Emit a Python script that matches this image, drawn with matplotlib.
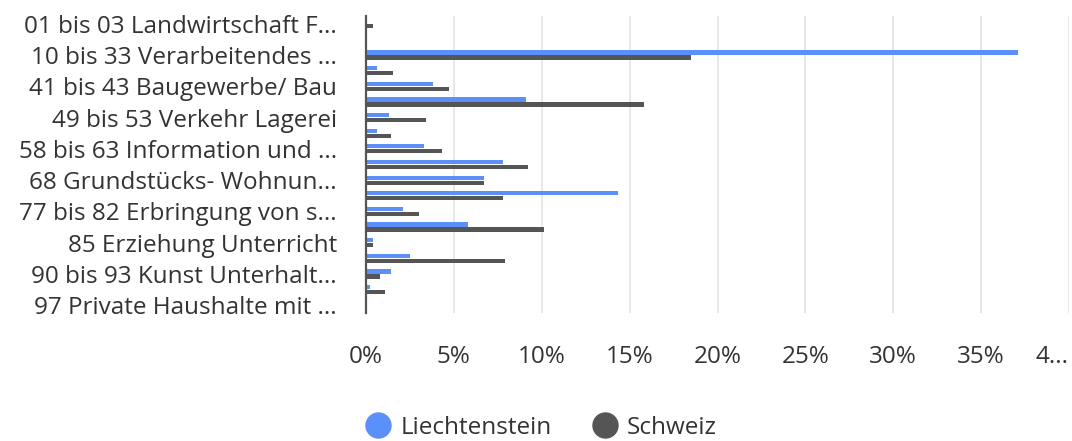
"""Beschäftigte nach Wirtschaftsabschnitt: Liechtenstein vs. Schweiz."""

import matplotlib
matplotlib.use("Agg")
import matplotlib.pyplot as plt
from matplotlib.lines import Line2D
import numpy as np

# category labels (only every other one is shown on the axis)
categories = [
    "01 bis 03 Landwirtschaft F...",
    "05 bis 09 Bergbau",
    "10 bis 33 Verarbeitendes ...",
    "35 bis 39 Energie- und Wasserversorgung",
    "41 bis 43 Baugewerbe/ Bau",
    "45 bis 47 Handel",
    "49 bis 53 Verkehr Lagerei",
    "55 bis 56 Gastgewerbe",
    "58 bis 63 Information und ...",
    "64 bis 66 Finanzdienstleistungen",
    "68 Grundstücks- Wohnun...",
    "69 bis 75 Freiberufliche Dienstleistungen",
    "77 bis 82 Erbringung von s...",
    "84 Öffentliche Verwaltung",
    "85 Erziehung Unterricht",
    "86 bis 88 Gesundheits- und Sozialwesen",
    "90 bis 93 Kunst Unterhalt...",
    "94 bis 96 Sonstige Dienstleistungen",
    "97 Private Haushalte mit ...",
]

# shares in percent
liechtenstein = [0.0, 0.0, 37.1, 0.6, 3.8, 9.1, 1.3, 0.6, 3.3, 7.8,
                 6.7, 14.35, 2.1, 5.8, 0.4, 2.5, 1.45, 0.2, 0.0]
schweiz = [0.4, 0.0, 18.5, 1.55, 4.7, 15.8, 3.4, 1.45, 4.35, 9.2,
           6.7, 7.8, 3.0, 10.1, 0.4, 7.9, 0.8, 1.1, 0.07]

x_ticks = [0, 5, 10, 15, 20, 25, 30, 35, 40]
x_ticklabels = ["0%", "5%", "10%", "15%", "20%", "25%", "30%", "35%", "4..."]

BLUE = "#5b8ff9"
DARK = "#555555"
TEXT = "#333333"
FS = 17.5

plt.rcParams["font.family"] = ["Open Sans", "DejaVu Sans"]

fig = plt.figure(figsize=(10.72, 4.41), dpi=100)
ax = fig.add_axes([366 / 1072, 1 - 313 / 441, (1069 - 366) / 1072, (313 - 16) / 441])

y = np.arange(len(categories))
h = 0.27
ax.barh(y - 0.16, liechtenstein, height=h, color=BLUE, label="Liechtenstein")
ax.barh(y + 0.16, schweiz, height=h, color=DARK, label="Schweiz")

ax.set_ylim(len(categories) - 0.5, -0.5)
ax.set_xlim(0, 40)

ax.set_yticks(y[::2])
ax.set_yticklabels(categories[::2])
ax.set_xticks(x_ticks)
ax.set_xticklabels(x_ticklabels)
ax.tick_params(axis="y", length=0, pad=21, labelsize=FS, labelcolor=TEXT)
ax.tick_params(axis="x", length=0, pad=23, labelsize=FS, labelcolor=TEXT)
# the last label is clipped in the original, keep it inside the figure
ax.get_xticklabels()[-1].set_horizontalalignment("right")

ax.grid(axis="x", color="#e4e4e4", linewidth=1.2)
ax.set_axisbelow(True)
for side in ["top", "right", "bottom"]:
    ax.spines[side].set_visible(False)
ax.spines["left"].set_color("#555555")
ax.spines["left"].set_linewidth(1.6)
ax.spines["left"].set_zorder(5)

handles = [
    Line2D([], [], marker="o", linestyle="", markersize=18, color=BLUE),
    Line2D([], [], marker="o", linestyle="", markersize=18, color=DARK),
]
fig.legend(handles, ["Liechtenstein", "Schweiz"], loc="center",
           bbox_to_anchor=(0.504, 0.03), ncol=2, frameon=False,
           fontsize=FS, labelcolor=TEXT, handletextpad=0.3,
           columnspacing=1.6, handlelength=1.2)

fig.savefig("out.png", dpi=100)
